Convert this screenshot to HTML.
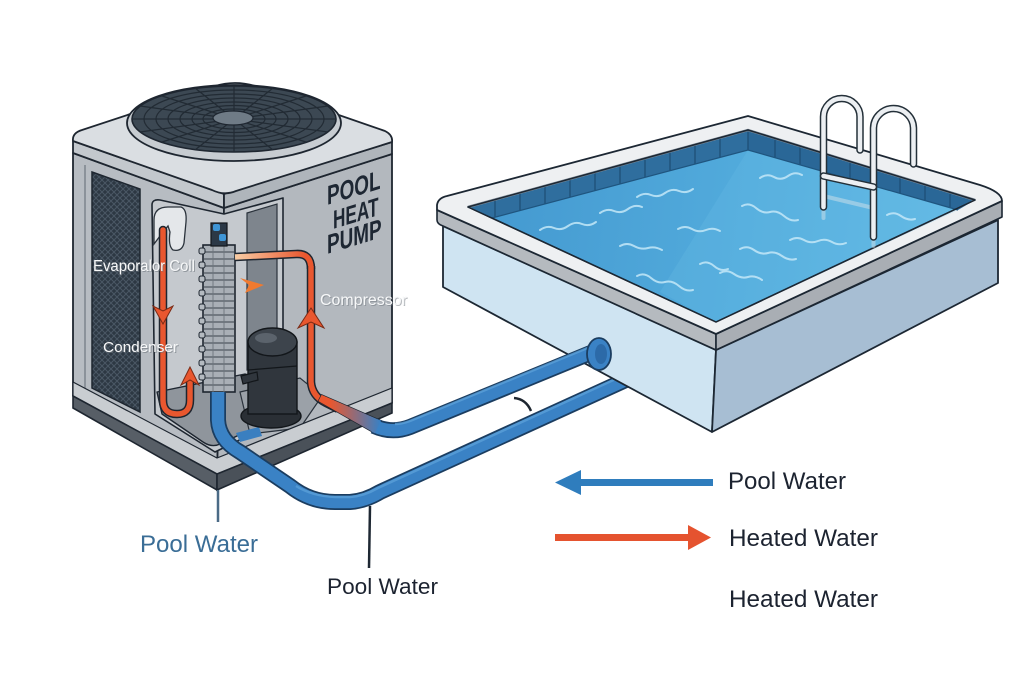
<!DOCTYPE html>
<html><head><meta charset="utf-8"><style>
html,body{margin:0;padding:0;background:#fff;}
svg{display:block;}
text{font-family:"Liberation Sans",sans-serif;}
</style></head><body>
<svg width="1024" height="683" viewBox="0 0 1024 683" xmlns="http://www.w3.org/2000/svg">
<defs>
 <pattern id="mesh" width="6" height="6" patternUnits="userSpaceOnUse">
   <rect width="6" height="6" fill="#2d3843"/>
   <path d="M0,0 L6,6 M6,0 L0,6" stroke="#4a5764" stroke-width="1"/>
 </pattern>
 <linearGradient id="water" gradientUnits="userSpaceOnUse" x1="480" y1="200" x2="960" y2="260">
   <stop offset="0" stop-color="#4499d0"/><stop offset="0.55" stop-color="#52abdc"/><stop offset="1" stop-color="#62b9e4"/>
 </linearGradient>
 <linearGradient id="orng" gradientUnits="userSpaceOnUse" x1="236" y1="0" x2="305" y2="0">
   <stop offset="0" stop-color="#f8cba3"/><stop offset="1" stop-color="#e9572f"/>
 </linearGradient>
 <linearGradient id="rb" gradientUnits="userSpaceOnUse" x1="330" y1="0" x2="380" y2="0">
   <stop offset="0" stop-color="#e9572f"/><stop offset="1" stop-color="#3a80c3"/>
 </linearGradient>
</defs>
<rect width="1024" height="683" fill="#ffffff"/>

<!-- ================= HEAT PUMP ================= -->
<path d="M73,153 L224,208 L217,474 L73,396 Z" fill="#b7bcc2" stroke="#1e2630" stroke-width="1.8" stroke-linejoin="round"/>
<path d="M224,208 L392,154 L392,403 L217,474 Z" fill="#b3b8be" stroke="#1e2630" stroke-width="1.8" stroke-linejoin="round"/>
<path d="M85,165 L85,392" stroke="#7d848c" stroke-width="1.5"/>
<path d="M92,172 L140,189 L140,412 L92,388 Z" fill="url(#mesh)" stroke="#1e2630" stroke-width="1.5"/>
<path d="M152,205 Q152,199 160,200 L224,214 L283,198 L283,380 L325,398 L215,452 L155,414 Z" fill="#c5c9ce" stroke="#1e2630" stroke-width="1.6" stroke-linejoin="round"/>
<path d="M247,213 L277,204 L277,362 L247,370 Z" fill="#7e858d" stroke="#2a323b" stroke-width="1.2"/>
<path d="M157,392 L245,374 L322,396 L220,444 Q212,448 203,442 L162,414 Z" fill="#8f959c" stroke="#1e2630" stroke-width="1.4" stroke-linejoin="round"/>
<path d="M240,392 L300,378 L322,396 L300,428 L250,434 Z" fill="#9ba1a8" stroke="#2a323b" stroke-width="1.2"/>
<path d="M73,382 L217,458 L392,388 L392,403 L217,474 L73,396 Z" fill="#c9cdd1" stroke="#1e2630" stroke-width="1.2"/>
<path d="M73,396 L217,474 L217,490 L73,408 Z" fill="#575e66" stroke="#1e2630" stroke-width="1.6"/>
<path d="M217,474 L392,403 L392,413 L217,490 Z" fill="#4a5159" stroke="#1e2630" stroke-width="1.6"/>
<path d="M236,433 L259,427 L262,436 L240,442 Z" fill="#3a7fc0"/>

<g transform="translate(327,205) skewY(-17)"><text font-size="27" font-weight="bold" fill="#1e2733" transform="scale(0.7,1)">POOL</text></g>
<g transform="translate(333,229) skewY(-17)"><text font-size="26" font-weight="bold" fill="#1e2733" transform="scale(0.66,1)">HEAT</text></g>
<g transform="translate(327,254) skewY(-17)"><text font-size="27" font-weight="bold" fill="#1e2733" transform="scale(0.7,1)">PUMP</text></g>

<path d="M154,244 L154,220 Q154,207 168,207 L181,207 Q187,209 186,222 L184,243 Q182,252 173,250 Q168,246 170,232 L168,226 L163,232 Z" fill="#e4e7ea" stroke="#2a323b" stroke-width="1.3"/>

<path d="M163,230 L163,400 Q163,414 177,414 Q190,414 190,400 L190,380" fill="none" stroke="#1e2630" stroke-width="8.5" stroke-linecap="round"/>
<path d="M163,230 L163,400 Q163,414 177,414 Q190,414 190,400 L190,380" fill="none" stroke="#e9572f" stroke-width="5.5" stroke-linecap="round"/>
<path d="M163,324 L173,306 L163,311 L153,306 Z" fill="#e9572f" stroke="#7a2a15" stroke-width="1"/>
<path d="M190,367 L199,385 L190,380 L181,385 Z" fill="#e9572f" stroke="#7a2a15" stroke-width="1"/>

<ellipse cx="271" cy="416" rx="30" ry="12" fill="#2a2f35" stroke="#12161a" stroke-width="1.4"/>
<rect x="248" y="342" width="49" height="72" fill="#30363d" stroke="#12161a" stroke-width="1.4"/>
<ellipse cx="272.5" cy="342" rx="24.5" ry="14" fill="#3d444c" stroke="#12161a" stroke-width="1.4"/>
<ellipse cx="266" cy="338" rx="11" ry="5" fill="#5b636c"/>
<path d="M248,370 L297,366" stroke="#12161a" stroke-width="1.2"/>
<path d="M241,376 L257,372 L258,380 L243,384 Z" fill="#30363d" stroke="#12161a" stroke-width="1.2"/>

<rect x="203" y="245" width="32" height="147" fill="#a9afb6" stroke="#1e2630" stroke-width="1.6"/>
<g stroke="#3a434c" stroke-width="1.1">
<path d="M203,252 H235 M203,259 H235 M203,266 H235 M203,273 H235 M203,280 H235 M203,287 H235 M203,294 H235 M203,301 H235 M203,308 H235 M203,315 H235 M203,322 H235 M203,329 H235 M203,336 H235 M203,343 H235 M203,350 H235 M203,357 H235 M203,364 H235 M203,371 H235 M203,378 H235 M203,385 H235"/>
<path d="M213,245 V392 M224,245 V392" stroke="#6d757d" stroke-width="0.9"/>
</g>
<g fill="#b4bac0" stroke="#1e2630" stroke-width="1">
<rect x="199" y="248" width="6" height="6" rx="2"/><rect x="199" y="262" width="6" height="6" rx="2"/><rect x="199" y="276" width="6" height="6" rx="2"/><rect x="199" y="290" width="6" height="6" rx="2"/><rect x="199" y="304" width="6" height="6" rx="2"/><rect x="199" y="318" width="6" height="6" rx="2"/><rect x="199" y="332" width="6" height="6" rx="2"/><rect x="199" y="346" width="6" height="6" rx="2"/><rect x="199" y="360" width="6" height="6" rx="2"/><rect x="199" y="374" width="6" height="6" rx="2"/>
</g>
<rect x="211" y="223" width="16" height="23" fill="#2b3846" stroke="#12161a" stroke-width="1.2"/>
<rect x="213" y="224" width="7" height="7" rx="2" fill="#3e95d6"/>
<rect x="219" y="234" width="7" height="7" rx="2" fill="#3e95d6"/>

<path d="M235,257 L296,254 Q311,253 311,269" fill="none" stroke="#1e2630" stroke-width="8.5"/>
<path d="M235,257 L296,254 Q311,253 311,269" fill="none" stroke="url(#orng)" stroke-width="5.5"/>
<path d="M311,266 L311,382 Q312,396 326,403 L338,409" fill="none" stroke="#1e2630" stroke-width="8.5"/>
<path d="M311,266 L311,382 Q312,396 326,403 L338,409" fill="none" stroke="#e9572f" stroke-width="5.5"/>
<path d="M311,308 L324,328 L311,322 L298,328 Z" fill="#e9572f" stroke="#7a2a15" stroke-width="1"/>
<path d="M240,278 L264,285 L245,293 L249,285 Z" fill="#f07a30"/>

<path d="M73,141 L224,194 L224,208 L73,153 Z" fill="#c3c8cd" stroke="#1e2630" stroke-width="1.8" stroke-linejoin="round"/>
<path d="M224,194 L392,142 L392,154 L224,208 Z" fill="#afb5bb" stroke="#1e2630" stroke-width="1.8" stroke-linejoin="round"/>
<path d="M73,141 Q72,133 82,130 L215,86 Q235,80 255,86 L385,131 Q393,135 392,142 L236,191 Q224,196 212,190 Z" fill="#dadee2" stroke="#1e2630" stroke-width="1.8" stroke-linejoin="round"/>
<ellipse cx="234" cy="123" rx="107" ry="38" fill="#c7ccd1" stroke="#1e2630" stroke-width="1.8"/>
<ellipse cx="234" cy="119" rx="102" ry="33" fill="#3c4853" stroke="#1e2630" stroke-width="1.6"/>
<g fill="none" stroke="#222b34" stroke-width="1.2">
<ellipse cx="234" cy="119" rx="90" ry="29"/><ellipse cx="234" cy="119" rx="78" ry="25"/><ellipse cx="234" cy="119" rx="66" ry="21"/><ellipse cx="234" cy="119" rx="54" ry="17"/><ellipse cx="234" cy="119" rx="42" ry="13.5"/><ellipse cx="234" cy="119" rx="31" ry="10"/>
<path d="M234,119 L336,119 M234,119 L132,119 M234,119 L234,86 M234,119 L234,152 M234,119 L306,96 M234,119 L162,96 M234,119 L306,142 M234,119 L162,142 M234,119 L328,106 M234,119 L140,106 M234,119 L328,132 M234,119 L140,132 M234,119 L273,88 M234,119 L195,88 M234,119 L273,150 M234,119 L195,150"/>
</g>
<ellipse cx="233" cy="118" rx="20" ry="7" fill="#6f7b86" stroke="#1e2630" stroke-width="1.2"/>

<text x="94" y="272" font-size="15.5" fill="#6f767d" opacity="0.6" textLength="102" lengthAdjust="spacingAndGlyphs">Evaporalor Coll</text>
<text x="93" y="271" font-size="15.5" fill="#f7f8f9" textLength="102" lengthAdjust="spacingAndGlyphs">Evaporalor Coll</text>
<text x="104" y="353" font-size="15" fill="#6f767d" opacity="0.6" textLength="75" lengthAdjust="spacingAndGlyphs">Condenser</text>
<text x="103" y="352" font-size="15" fill="#f7f8f9" textLength="75" lengthAdjust="spacingAndGlyphs">Condenser</text>
<text x="321" y="306" font-size="15.5" fill="#6f767d" opacity="0.5" textLength="87" lengthAdjust="spacingAndGlyphs">Compressor</text>
<text x="320" y="305" font-size="15.5" fill="#f7f8f9" textLength="87" lengthAdjust="spacingAndGlyphs">Compressor</text>

<path d="M218,392 L218,420 Q219,440 240,452 L290,486 Q310,502 335,502 L350,502 Q365,501 380,492 L628,379" fill="none" stroke="#1b3d60" stroke-width="16" stroke-linejoin="round"/>
<path d="M218,392 L218,420 Q219,440 240,452 L290,486 Q310,502 335,502 L350,502 Q365,501 380,492 L628,379" fill="none" stroke="#3a82c5" stroke-width="12.5" stroke-linejoin="round"/>
<path d="M296,486 Q312,496 335,497 L350,497 Q364,496 378,488 L620,377" fill="none" stroke="#5ea2da" stroke-width="2.5" opacity="0.7"/>

<!-- ================= POOL ================= -->
<path d="M443,226 L716,350 L712,432 L443,287 Z" fill="#cfe4f2" stroke="#1c2733" stroke-width="1.8" stroke-linejoin="round"/>
<path d="M716,350 L998,220 L998,283 L712,432 Z" fill="#a7bed3" stroke="#1c2733" stroke-width="1.8" stroke-linejoin="round"/>
<path d="M437,210 L716,334 L716,350 L443,226 Q437,224 437,220 Z" fill="#b5babf" stroke="#1c2733" stroke-width="1.6" stroke-linejoin="round"/>
<path d="M716,334 L1002,201 L1002,217 L716,350 Z" fill="#a9aeb4" stroke="#1c2733" stroke-width="1.6" stroke-linejoin="round"/>
<path d="M437,210 L437,205 Q438,198 447,196 L748,116 L980,185 Q1002,192 1002,201 L716,334 Z" fill="#eef0f2" stroke="#1c2733" stroke-width="1.8" stroke-linejoin="round"/>
<path d="M468,207 L748,130 L975,200 L716,322 Z" fill="url(#water)" stroke="#1c2733" stroke-width="1.5" stroke-linejoin="round"/>
<path d="M748,150 L958,210 L716,322 L660,292 Z" fill="#6bc0e8" opacity="0.25"/>
<path d="M468,207 L748,130 L748,150 L492,218 Z" fill="#2f6e9e"/>
<path d="M748,130 L975,200 L958,210 L748,150 Z" fill="#2a6797"/>
<g stroke="#1d4d74" stroke-width="1.2">
<path d="M495,199.6 V216.7 M520,192.7 V210.1 M545,185.8 V203.5 M570,178.9 V196.9 M595,172 V190.3 M620,165.2 V183.7 M645,158.3 V177.1 M670,151.4 V170.6 M695,144.5 V164 M720,137.7 V157.4 M748,130 V150"/>
<path d="M775,138.3 V157.7 M800,146 V164.9 M825,153.7 V172 M850,161.4 V179.1 M875,169.1 V186.3 M900,176.8 V193.4 M925,184.5 V200.6 M950,192.2 V207.7"/>
<path d="M492,218 L748,150 L958,210" fill="none" stroke="#1f557f" stroke-width="1.2"/>
</g>
<path d="M468,207 L748,130 L975,200" fill="none" stroke="#7f8c98" stroke-width="2.5"/>
<path d="M468,207 L748,130 L975,200 L716,322 Z" fill="none" stroke="#1c2733" stroke-width="1.5" stroke-linejoin="round"/>
<g fill="none" stroke="#c4e8f8" stroke-width="2" stroke-linecap="round" opacity="0.85">
<path d="M540,230 q7,-5 14,-2 t14,-2 t14,-2 t14,-2"/>
<path d="M600,213 q7,-5 14,-2 t14,-2 t14,-2"/>
<path d="M637,197 q7,-5 14,-2 t14,-2 t14,-2 t14,-2"/>
<path d="M620,246 q7,-4 14,0 t14,2 t14,2"/>
<path d="M678,229 q7,-4 14,0 t14,1 t14,1"/>
<path d="M637,276 q7,-4 14,2 t14,4 t14,4 t14,4"/>
<path d="M700,264 q7,-4 14,2 t14,3"/>
<path d="M760,178 q7,-5 14,-1 t14,-1 t14,-1"/>
<path d="M742,206 q7,-4 14,2 t14,4 t14,4 t14,4"/>
<path d="M790,240 q7,-4 14,0 t14,1 t14,1 t14,1"/>
<path d="M740,249 q7,-4 14,1 t14,3 t14,3 t14,3"/>
<path d="M720,273 q7,-4 14,1 t14,3 t14,3"/>
<path d="M887,215 q7,-4 14,1 t14,3"/>
</g>
<g fill="none" stroke-linecap="round">
<path d="M823.5,196 L873.5,208" stroke="#dfe7ec" stroke-width="4" opacity="0.45"/>
<path d="M823.5,208 L823.5,218 M873.5,237 L873.5,246" stroke="#dfe7ec" stroke-width="4" opacity="0.45"/>
<path d="M823.5,207 L823.5,116.75 A18.25,18.25 0 0 1 860,116.75 L860,150" stroke="#243039" stroke-width="7.5"/>
<path d="M823.5,207 L823.5,116.75 A18.25,18.25 0 0 1 860,116.75 L860,150" stroke="#eceff2" stroke-width="4.5"/>
<path d="M873.5,237 L873.5,128.5 A20,20 0 0 1 913.5,128.5 L913.5,164" stroke="#243039" stroke-width="7.5"/>
<path d="M873.5,237 L873.5,128.5 A20,20 0 0 1 913.5,128.5 L913.5,164" stroke="#eceff2" stroke-width="4.5"/>
<path d="M823.5,176 L873.5,187" stroke="#243039" stroke-width="7.5"/>
<path d="M823.5,176 L873.5,187" stroke="#eceff2" stroke-width="4.5"/>
</g>

<path d="M321.6,394.9 L381.1,420.7 L374.9,433.3 L318.4,401.1 Z" fill="url(#rb)" stroke="#1e2630" stroke-width="1.3"/>
<path d="M374,426 Q392,434 410,427 L593,352" fill="none" stroke="#1b3d60" stroke-width="16" stroke-linejoin="round"/>
<path d="M374,426 Q392,434 410,427 L593,352" fill="none" stroke="#3a82c5" stroke-width="12.5" stroke-linejoin="round"/>
<path d="M395,424 Q402,424 410,421 L590,347" fill="none" stroke="#5ea2da" stroke-width="2.5" opacity="0.7"/>
<path d="M321.6,394.9 L381.1,420.7 L374.9,433.3 L318.4,401.1 Z" fill="url(#rb)"/>
<ellipse cx="599" cy="354" rx="12" ry="16" fill="#3a82c5" stroke="#1b3d60" stroke-width="1.8"/>
<ellipse cx="601" cy="354" rx="6" ry="10" fill="#2c6aa8"/>
<path d="M514,398 Q526,399 531,411" fill="none" stroke="#1e2630" stroke-width="2.5"/>

<path d="M218,490 L218,522" stroke="#4b6b86" stroke-width="2.5"/>
<path d="M370,506 L369,568" stroke="#1e2833" stroke-width="2.5"/>

<text x="140" y="552" font-size="24" fill="#3a6d96" textLength="118" lengthAdjust="spacingAndGlyphs">Pool Water</text>
<text x="327" y="594" font-size="22.5" fill="#1c2330" textLength="111" lengthAdjust="spacingAndGlyphs">Pool Water</text>

<rect x="578" y="479" width="135" height="7" fill="#2f7dbd"/>
<path d="M555,482.5 L581,470 L581,495 Z" fill="#2f7dbd"/>
<text x="728" y="489" font-size="24" fill="#1c2330" textLength="118" lengthAdjust="spacingAndGlyphs">Pool Water</text>
<rect x="555" y="534" width="135" height="7" fill="#e5532f"/>
<path d="M688,525 L711,537.5 L688,550 Z" fill="#e5532f"/>
<text x="729" y="546" font-size="24" fill="#1c2330" textLength="149" lengthAdjust="spacingAndGlyphs">Heated Water</text>
<text x="729" y="607" font-size="24" fill="#1c2330" textLength="149" lengthAdjust="spacingAndGlyphs">Heated Water</text>
</svg>
</body></html>
